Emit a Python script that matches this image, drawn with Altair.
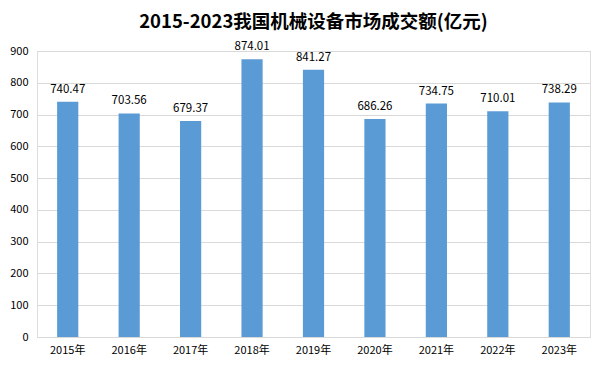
import altair as alt
import pandas as pd

years = ["2015年", "2016年", "2017年", "2018年", "2019年", "2020年", "2021年", "2022年", "2023年"]
values = [740.47, 703.56, 679.37, 874.01, 841.27, 686.26, 734.75, 710.01, 738.29]
y_ticks = [0, 100, 200, 300, 400, 500, 600, 700, 800, 900]
title_text = "2015-2023我国机械设备市场成交额(亿元)"

df = pd.DataFrame({"year": years, "value": values})
df["label"] = [f"{v:.2f}" for v in values]

FONT = "Noto Sans CJK SC"

base = alt.Chart(df).encode(
    x=alt.X("year:N", sort=years,
            scale=alt.Scale(paddingInner=0.655, paddingOuter=0.3275),
            axis=alt.Axis(title=None, labelAngle=0, ticks=False, domain=True,
                          domainColor="#D9D9D9", labelColor="#000000",
                          labelFont=FONT, labelFontSize=11, labelPadding=7)),
    y=alt.Y("value:Q", scale=alt.Scale(domain=[0, 900], nice=False),
            axis=alt.Axis(title=None, values=y_ticks, ticks=False, domain=False,
                          labelOverlap=False, labelFlush=False, tickCount=10,
                          gridColor="#D9D9D9", labelColor="#000000",
                          labelFont=FONT, labelFontSize=11, labelPadding=9)),
)

bars = base.mark_bar(color="#5B9BD5")

text = base.mark_text(baseline="bottom", dy=-7, fontSize=11.5, font=FONT,
                      color="#000000").encode(
    text="label:N",
)

chart = (bars + text).properties(
    width=553,
    height=286,
    title=alt.TitleParams(title_text, font=FONT, fontSize=18.5, fontWeight="bold",
                          color="#000000", anchor="middle", offset=10),
    autosize=alt.AutoSizeParams(type="none"),
    padding={"left": 29, "top": 43, "right": 10, "bottom": 25},
).configure_view(stroke=None).configure(background="white")

chart.save("out.html", embed_options={"renderer": "svg", "actions": False})
